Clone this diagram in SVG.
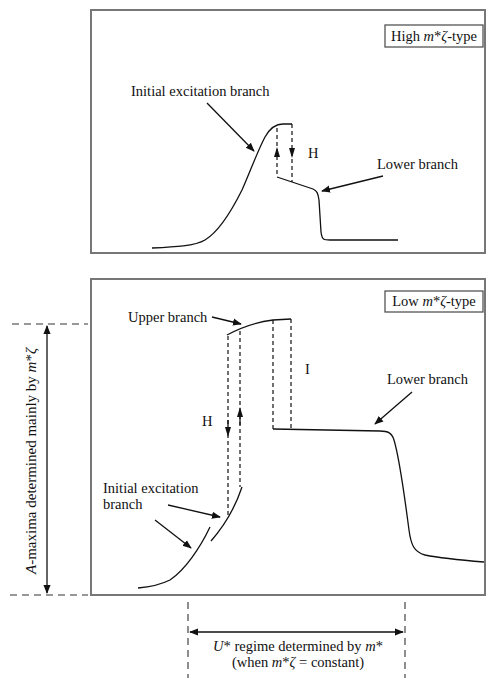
<svg xmlns="http://www.w3.org/2000/svg" width="487" height="679" viewBox="0 0 487 679">
<defs>
<style>
.panel{fill:#fff;stroke:#777;stroke-width:2}
.tag{fill:#fff;stroke:#555;stroke-width:1.3}
.t{font-family:"Liberation Serif","Times New Roman",serif;font-size:14.5px;fill:#111}
.big{font-size:15px}
.i{font-style:italic}
.c{fill:none;stroke:#111;stroke-width:1.3}
.d{fill:none;stroke:#111;stroke-width:1.2;stroke-dasharray:4 3}
.d2{fill:none;stroke:#333;stroke-width:1.1;stroke-dasharray:7 5}
.a{fill:none;stroke:#111;stroke-width:1.3}
</style>
<marker id="ah" viewBox="0 0 10 10" refX="9" refY="5" markerWidth="9" markerHeight="9" markerUnits="userSpaceOnUse" orient="auto-start-reverse">
<path d="M0,1 L10,5 L0,9 Z" fill="#111"/>
</marker>
</defs>
<rect width="487" height="679" fill="#fff"/>

<g id="panel-high">
<rect class="panel" x="91" y="10" width="394" height="243"/>
<g id="tag-high">
<rect class="tag" x="385" y="25" width="98" height="22"/>
<text class="t" x="434" y="41" text-anchor="middle">High <tspan class="i">m</tspan>*<tspan class="i">ζ</tspan>-type</text>
</g>
<g id="curve-high">
<path class="c" d="M152,248 C175,247 195,246 205,240 C220,231 232,210 242,190 C250,172 258,150 265,137 C270,128 275,124 283,124 L292,124"/>
<path class="d" d="M277,128 V177"/>
<path class="d" d="M292,124 V182"/>
<path class="c" d="M277,177 L313,189 C317,191 318,193 319,200 L321,232 C322,240 324,240 330,240 L398,240"/>
<path d="M274,157 L277,147 L280,157 Z" fill="#111"/>
<path d="M289,148 L292,158 L295,148 Z" fill="#111"/>
</g>
<text class="t" x="131" y="96">Initial excitation branch</text>
<text class="t" x="308" y="158">H</text>
<text class="t" x="377" y="169">Lower branch</text>
</g>

<g id="panel-low">
<rect class="panel" x="91" y="279" width="394" height="316"/>
<g id="tag-low">
<rect class="tag" x="385" y="291" width="98" height="21"/>
<text class="t" x="434" y="306" text-anchor="middle">Low <tspan class="i">m</tspan>*<tspan class="i">ζ</tspan>-type</text>
</g>
<g id="curve-low">
<path class="c" d="M227,335 C240,328 257,322 273,320 L291,319"/>
<path class="d" d="M228,336 V515"/>
<path class="d" d="M240,331 V487"/>
<path class="d" d="M273,320 V429"/>
<path class="d" d="M291,319 V429"/>
<path class="c" d="M273,429 L380,431 C388,431 392,433 394,440 C400,460 405,500 409,530 C411,545 414,552 425,555 C440,558 460,560 484,562"/>
<path class="c" d="M242,487 C236,505 225,525 211,541"/>
<path class="c" d="M210,527 C200,548 185,570 170,580 C160,585 150,587 138,588"/>
<path d="M225,427 L228,437 L231,427 Z" fill="#111"/>
<path class="c" d="M228,420 V428"/>
<path d="M237,417 L240,407 L243,417 Z" fill="#111"/>
<path class="c" d="M240,416 V425"/>
</g>
<text class="t" x="128" y="322">Upper branch</text>
<text class="t" x="305" y="374">I</text>
<text class="t" x="387" y="384">Lower branch</text>
<text class="t" x="202" y="426">H</text>
<text class="t" x="103" y="493">Initial excitation</text>
<text class="t" x="103" y="509">branch</text>
</g>

<g id="annotation-amax">
<path class="d2" d="M12,324 H88"/>
<path class="d2" d="M10,595 H88"/>
<text class="t big" transform="translate(36,461) rotate(-90)" text-anchor="middle"><tspan class="i">A</tspan>-maxima determined mainly by <tspan class="i">m</tspan>*<tspan class="i">ζ</tspan></text>
</g>

<g id="annotation-ustar">
<path class="d2" d="M188,602 V678"/>
<path class="d2" d="M405,602 V678"/>
<text class="t" x="298" y="651" text-anchor="middle"><tspan class="i">U</tspan>* regime determined by <tspan class="i">m</tspan>*</text>
<text class="t" x="298" y="667" text-anchor="middle">(when <tspan class="i">m</tspan>*<tspan class="i">ζ</tspan> = constant)</text>
</g>

<g id="connectors">
<path class="a" d="M207,103 L254,151" marker-end="url(#ah)"/>
<path class="a" d="M383,176 L322,191" marker-end="url(#ah)"/>
<path class="a" d="M212,317 L241,324" marker-end="url(#ah)"/>
<path class="a" d="M412,392 L375,424" marker-end="url(#ah)"/>
<path class="a" d="M168,505 L220,517" marker-end="url(#ah)"/>
<path class="a" d="M155,520 L191,548" marker-end="url(#ah)"/>
<path class="a" d="M47,326 V593" marker-start="url(#ah)" marker-end="url(#ah)"/>
<path class="a" d="M190,632 H403" marker-start="url(#ah)" marker-end="url(#ah)"/>
</g>
</svg>
